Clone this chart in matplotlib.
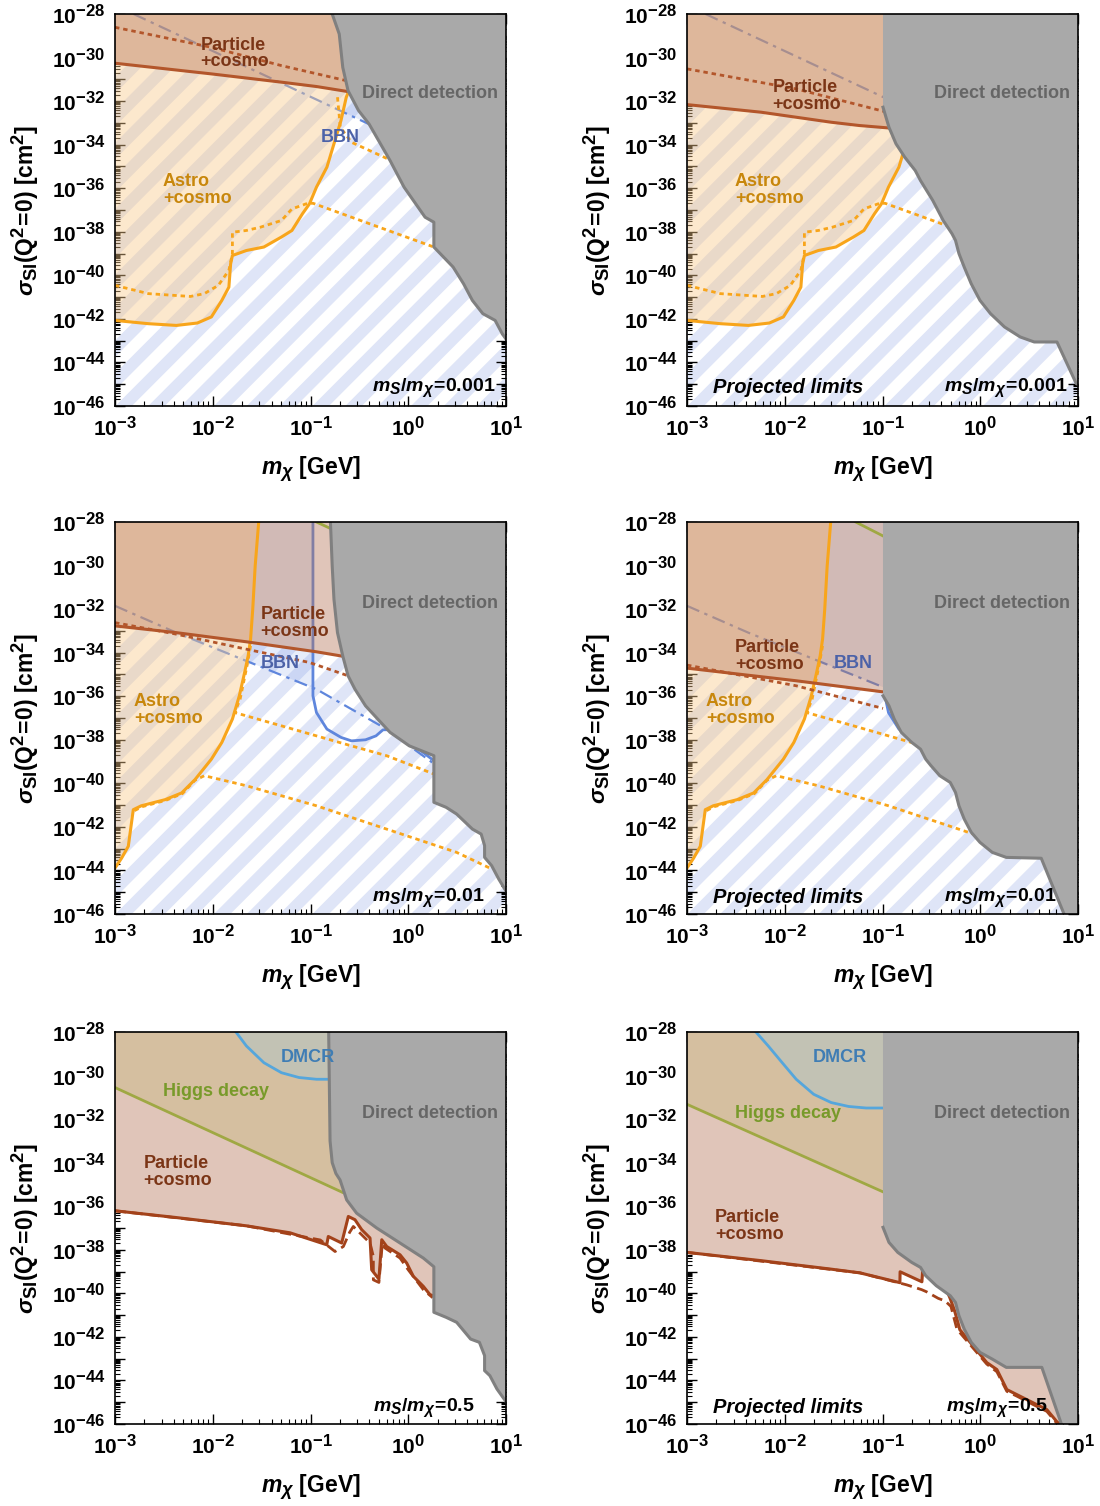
import numpy as np
import matplotlib
matplotlib.use("Agg")
import matplotlib.pyplot as plt
from matplotlib.path import Path
from matplotlib.patches import PathPatch
from matplotlib.lines import Line2D
from matplotlib.ticker import LogLocator, FuncFormatter, NullFormatter

try:
    import matplotlib._mathtext as _mt
    if hasattr(_mt, "SHRINK_FACTOR"):
        _mt.SHRINK_FACTOR = 0.8
except Exception:
    pass

plt.rcParams.update({
    "font.family": ["Liberation Sans", "DejaVu Sans"],
    "font.weight": "bold",
    "axes.labelweight": "bold",
    "mathtext.fontset": "custom",
    "mathtext.rm": "Liberation Sans:bold",
    "mathtext.bf": "Liberation Sans:bold",
    "mathtext.it": "Liberation Sans:italic:bold",
    "mathtext.sf": "Liberation Sans:bold",
})

# ------------------------------------------------------------------
# DATA  (all values are log10: x = log10(m_chi/GeV), y = log10(sigma/cm^2))
# ------------------------------------------------------------------
# ---- row 1 : m_S/m_chi = 0.001
r1_astro_x = [-3.0, -2.659, -2.373, -2.158, -2.014, -1.907, -1.835, -1.817, -1.799, -1.656, -1.477,
              -1.297, -1.190, -1.082, -1.011, -0.939, -0.832, -0.760, -0.688, -0.634, -0.609]
r1_astro_y = [-42.07, -42.22, -42.30, -42.19, -41.91, -41.15, -40.54, -39.47, -39.09, -38.86, -38.70,
              -38.24, -37.94, -37.17, -36.72, -35.95, -35.03, -33.96, -32.89, -31.82, -31.55]
r1_astrodot_x = [-3.0, -2.659, -2.229, -2.086, -1.943, -1.835, -1.799, -1.799, -1.656, -1.513, -1.297,
                 -1.190, -1.047, -0.975, 0.262]
r1_astrodot_y = [-40.46, -40.84, -40.97, -40.84, -40.46, -39.77, -39.01, -38.02, -37.94, -37.79, -37.48,
                 -36.95, -36.72, -36.69, -38.70]
r1_astrodot2_x = [-0.724, -0.695, -0.581, -0.186]
r1_astrodot2_y = [-31.82, -33.20, -33.89, -34.70]
r1_bbn_x = [-2.81, 0.0]
r1_bbn_y = [-28.0, -33.90]
r1_bbn_xmax = 0.0

r1L_part_x = [-3.0, -2.014, -1.297, -0.939, -0.634]
r1L_part_y = [-30.26, -30.75, -31.13, -31.33, -31.55]
r1L_partdot_x = [-3.0, -2.014, -1.297, -0.634]
r1L_partdot_y = [-28.61, -29.53, -30.37, -31.06]
r1L_dd_x = [-0.778, -0.706, -0.670, -0.616, -0.509, -0.401, -0.186, -0.043, 0.172, 0.262, 0.262,
            0.459, 0.566, 0.656, 0.763, 0.889, 0.961, 1.02]
r1L_dd_y = [-28.0, -28.92, -30.45, -31.52, -32.43, -33.05, -34.73, -35.95, -37.33, -37.56, -38.70,
            -39.62, -40.39, -41.15, -41.76, -42.07, -42.68, -43.05]

r1R_part_x = [-3.0, -2.241, -1.525, -1.238, -0.944]
r1R_part_y = [-32.16, -32.51, -32.97, -33.12, -33.23]
r1R_partdot_x = [-3.0, -1.883, -0.952]
r1R_partdot_y = [-30.52, -31.44, -32.51]
r1R_dd_x = [-0.995, -0.995, -0.987, -0.934, -0.862, -0.773, -0.665, -0.611, -0.486, -0.379, -0.289,
            -0.253, -0.218, -0.164, -0.092, -0.003, 0.105, 0.248, 0.409, 0.552, 0.785, 0.982, 1.02]
r1R_dd_y = [-28.0, -32.28, -32.40, -33.20, -33.96, -34.57, -35.19, -35.65, -36.56, -37.48, -38.09,
            -38.40, -39.00, -39.62, -40.39, -41.15, -41.76, -42.37, -42.83, -43.06, -43.06, -44.97, -45.05]

# ---- row 2 : m_S/m_chi = 0.01
r2_astro_x = [-3.0, -2.932, -2.864, -2.813, -2.731, -2.488, -2.318, -2.182, -2.014, -1.907, -1.799,
              -1.728, -1.674, -1.638, -1.613, -1.591, -1.566, -1.530]
r2_astro_y = [-43.89, -43.43, -42.89, -41.21, -41.03, -40.75, -40.44, -39.83, -38.89, -38.12, -37.05,
              -35.98, -34.91, -34.15, -33.38, -32.01, -30.02, -28.0]
r2_astrodot_x = [-1.613, -1.650, -1.720, -1.775, -1.297, -0.581, -0.222, 0.262]
r2_astrodot_y = [-33.69, -34.61, -36.13, -36.75, -37.36, -38.28, -38.73, -39.57]
r2_astrodot2_x = [-2.800, -2.720, -2.480, -2.310, -2.182, -2.086, -1.656, -0.939, -0.222, 0.495, 0.853]
r2_astrodot2_y = [-41.25, -41.07, -40.78, -40.47, -39.86, -39.65, -40.11, -41.03, -42.10, -43.17, -43.93]
r2_bbn_x = [-3.0, -2.373, -1.656, -0.939, -0.222, 0.244]
r2_bbn_y = [-31.85, -33.08, -34.38, -35.68, -37.51, -39.04]
r2_bbn_xmax = -0.975
r2_bbnsolid_x = [-0.975, -0.975, -0.939, -0.832, -0.688, -0.581, -0.437, -0.330, -0.258, -0.186,
                 -0.115, 0.262]
r2_bbnsolid_y = [-28.0, -35.98, -36.75, -37.51, -37.89, -38.05, -38.00, -37.82, -37.54, -37.54,
                 -37.66, -38.96]

r2L_part_x = [-3.0, -2.373, -1.656, -0.939, -0.688]
r2L_part_y = [-32.77, -33.08, -33.50, -33.96, -34.15]
r2L_partdot_x = [-3.0, -2.373, -1.656, -1.011, -0.616]
r2L_partdot_y = [-32.62, -33.15, -33.84, -34.45, -35.06]
r2L_higgs_x = [-0.939, -0.780]
r2L_higgs_y = [-28.0, -28.33]
r2L_dd_x = [-0.796, -0.778, -0.760, -0.724, -0.670, -0.616, -0.545, -0.437, -0.312, -0.186, 0.011,
            0.262, 0.262, 0.387, 0.495, 0.656, 0.746, 0.781, 0.781, 0.853, 0.925, 1.02]
r2L_dd_y = [-28.0, -30.02, -31.55, -33.08, -34.15, -35.06, -35.68, -36.44, -37.05, -37.66, -38.28,
            -38.73, -40.87, -41.10, -41.41, -42.10, -42.33, -42.86, -43.40, -43.78, -44.39, -45.1]

r2R_part_x = [-3.0, -1.883, -0.995]
r2R_part_y = [-34.71, -35.29, -35.80]
r2R_partdot_x = [-3.0, -1.883, -0.995]
r2R_partdot_y = [-34.57, -35.52, -36.56]
r2R_higgs_x = [-1.274, -0.995]
r2R_higgs_y = [-28.0, -28.64]
r2R_dd_x = [-0.995, -0.995, -0.934, -0.880, -0.808, -0.701, -0.611, -0.558, -0.504, -0.414, -0.307,
            -0.253, -0.218, -0.164, -0.092, -0.003, 0.123, 0.266, 0.624, 0.857]
r2R_dd_y = [-28.0, -35.98, -36.44, -37.05, -37.66, -38.12, -38.43, -38.89, -39.19, -39.65, -39.96,
            -40.42, -41.03, -41.64, -42.25, -42.71, -43.17, -43.40, -43.44, -46.0]

# ---- row 3 : m_S/m_chi = 0.5
r3L_part_x = [-3.0, -2.373, -1.656, -1.210, -0.834, -0.818, -0.681, -0.613, -0.545, -0.476, -0.391,
              -0.374, -0.300, -0.271, -0.220, -0.084, -0.016, 0.052, 0.154, 0.222, 0.262]
r3L_part_y = [-36.21, -36.52, -36.90, -37.22, -37.77, -37.39, -37.69, -36.47, -36.62, -37.08, -37.46,
              -38.92, -39.35, -37.54, -37.85, -38.23, -38.61, -39.22, -39.68, -40.06, -40.12]
r3L_partdash_x = [-3.0, -1.656, -0.900, -0.749, -0.664, -0.600, -0.562, -0.391, -0.357, -0.357, -0.300,
                  -0.265, -0.238, -0.084, 0.0, 0.154, 0.250]
r3L_partdash_y = [-36.21, -36.90, -37.55, -38.08, -37.85, -37.20, -36.93, -37.69, -38.31, -39.38, -39.50,
                  -37.70, -37.92, -38.38, -38.92, -39.83, -40.20]
r3L_higgs_x = [-3.0, -0.670]
r3L_higgs_y = [-30.55, -35.37]
r3L_dmcr_x = [-1.763, -1.656, -1.477, -1.297, -1.118, -0.939, -0.814]
r3L_dmcr_y = [-28.0, -28.64, -29.41, -29.87, -30.09, -30.17, -30.17]
r3L_dd_x = [-0.814, -0.800, -0.778, -0.740, -0.698, -0.630, -0.528, -0.323, -0.084, 0.154, 0.262,
            0.262, 0.387, 0.495, 0.638, 0.728, 0.781, 0.781, 0.835, 0.907, 1.02]
r3L_dd_y = [-28.0, -33.00, -34.00, -34.50, -34.79, -35.71, -36.32, -37.00, -37.69, -38.38, -38.78,
            -40.87, -41.10, -41.33, -42.10, -42.25, -42.86, -43.55, -43.78, -44.39, -45.1]

r3R_part_x = [-3.0, -2.241, -1.525, -1.231, -0.822, -0.820, -0.597, -0.587, -0.500, -0.350, -0.311,
              -0.260, -0.209, 0.067, 0.170, 0.272, 0.374, 0.538, 0.681, 0.783, 0.810]
r3R_part_y = [-38.12, -38.50, -38.89, -39.06, -39.51, -39.01, -39.47, -38.83, -39.20, -39.80, -40.20,
              -40.84, -41.67, -43.18, -43.50, -44.42, -44.65, -45.02, -45.34, -45.89, -46.0]
r3R_partdash_x = [-3.0, -1.231, -0.830, -0.753, -0.600, -0.549, -0.430, -0.360, -0.300, -0.242, -0.200,
                  0.067, 0.170, 0.272, 0.374, 0.538, 0.681, 0.790]
r3R_partdash_y = [-38.12, -39.06, -39.52, -39.61, -39.83, -39.93, -40.23, -40.35, -40.60, -41.59, -41.85,
                  -43.25, -43.60, -44.50, -44.72, -45.10, -45.42, -46.0]
r3R_higgs_x = [-3.0, -0.995]
r3R_higgs_y = [-31.32, -35.34]
r3R_dmcr_x = [-2.295, -2.169, -2.026, -1.883, -1.704, -1.525, -1.346, -1.167, -0.995]
r3R_dmcr_y = [-28.0, -28.64, -29.41, -30.17, -30.86, -31.24, -31.42, -31.49, -31.49]
r3R_dd_x = [-0.995, -0.995, -0.934, -0.844, -0.701, -0.611, -0.558, -0.450, -0.307, -0.253, -0.218,
            -0.164, -0.092, -0.003, 0.123, 0.266, 0.630, 0.830]
r3R_dd_y = [-28.0, -36.97, -37.66, -38.12, -38.58, -38.81, -39.19, -39.65, -40.11, -40.42, -41.03,
            -41.64, -42.25, -42.71, -43.02, -43.40, -43.40, -46.0]

ratio_labels = ["0.001", "0.01", "0.5"]

# ------------------------------------------------------------------
# STYLE
# ------------------------------------------------------------------
C_STRIPE = "#dfe5f7"
C_ORANGE_FILL, A_ORANGE = "#f9c98a", 0.42
C_BROWN_FILL, A_BROWN = "#b47355", 0.41
C_BLUE_FILL, A_BLUE = "#648ce6", 0.16
C_HIGGS_FILL, A_HIGGS = "#aaaa3c", 0.20
C_DMCR_FILL, A_DMCR = "#a0c8dc", 0.35
C_DD, C_DD_EDGE = "#a9a9a9", "#808080"
C_ORANGE = "#f8a51b"
C_BROWN12 = "#b3562b"
C_BROWN3 = "#a3421a"
C_BBN = "#5f86dc"
C_HIGGS = "#9fa843"
C_DMCR = "#55a6dc"
T_PART = "#7b3516"
T_ASTRO = "#c8870c"
T_BBN = "#4c62a8"
T_DD = "#666666"
T_DMCR = "#3f7db4"
T_HIGGS = "#789a2a"
DOT = (0, (1.6, 1.4))
DASHDOT = (0, (6, 2.5, 1.5, 2.5))
TOP = -27.5
LEFT = -3.3


def lg(v):
    return 10.0 ** np.asarray(v, dtype=float)


def region_above(xs, ys):
    xs = [float(v) for v in xs]
    ys = [float(v) for v in ys]
    vx, vy = [], []
    xl = xs[0]
    if xs[0] <= -3.0:
        xl = LEFT
        vx.append(xl)
        vy.append(ys[0])
    vx += xs
    vy += ys
    xe = xs[-1] + 0.05
    vx += [xe, xe, xl]
    vy += [ys[-1], TOP, TOP]
    return np.array(vx), np.array(vy)


def region_above_until(xs, ys, xmax):
    xs = np.asarray(xs, float)
    ys = np.asarray(ys, float)
    keep = xs < xmax
    cx = list(np.r_[xs[keep], xmax])
    cy = list(np.r_[ys[keep], np.interp(xmax, xs, ys)])
    xl = cx[0]
    if cx[0] <= -3.0:
        xl = LEFT
        cx = [xl] + cx
        cy = [cy[0]] + cy
    cx += [xmax, xl]
    cy += [TOP, TOP]
    return np.array(cx), np.array(cy)


def dd_region(xs, ys):
    vx = list(xs)
    vy = list(ys)
    if ys[-1] <= -45.9:
        vx += [xs[-1] + 0.02, 1.3]
        vy += [-46.5, -46.5]
    else:
        vx += [1.3]
        vy += [ys[-1]]
    vx += [1.3, xs[0]]
    vy += [TOP, TOP]
    return np.array(vx), np.array(vy)


def hole_patch(ax, hx, hy):
    hx = np.asarray(hx, float)
    hy = np.asarray(hy, float)
    area = 0.5 * np.sum(hx * np.roll(hy, -1) - np.roll(hx, -1) * hy)
    if area > 0:
        hx, hy = hx[::-1], hy[::-1]
    rx = [-4.0, 2.0, 2.0, -4.0, -4.0]
    ry = [-48.0, -48.0, -26.0, -26.0, -48.0]
    verts = np.column_stack([np.r_[rx, hx, hx[0]], np.r_[ry, hy, hy[0]]])
    codes = ([Path.MOVETO] + [Path.LINETO] * 3 + [Path.CLOSEPOLY] +
             [Path.MOVETO] + [Path.LINETO] * (len(hx) - 1) + [Path.CLOSEPOLY])
    return PathPatch(Path(10.0 ** verts, codes), transform=ax.transData)


def add_stripes(ax):
    period = 0.084
    for c in np.arange(-1.45, 1.45, period):
        ln = Line2D([-0.2, 1.2], [c - 0.2, c + 1.2], transform=ax.transAxes, color=C_STRIPE,
                    lw=8.4, solid_capstyle="butt", zorder=1)
        ax.add_line(ln)


def fill(ax, vx, vy, **kw):
    return ax.fill(lg(vx), lg(vy), lw=0, **kw)[0]


def line(ax, x, y, **kw):
    ax.plot(lg(x), lg(y), **kw)


def style_axes(ax):
    ax.set_xscale("log")
    ax.set_yscale("log")
    ax.set_xlim(1e-3, 1e1)
    ax.set_ylim(1e-46, 1e-28)
    ax.xaxis.set_major_locator(LogLocator(base=10, numticks=30))
    ax.yaxis.set_major_locator(LogLocator(base=10, numticks=40))
    ax.xaxis.set_minor_locator(LogLocator(base=10, subs=np.arange(2, 10), numticks=30))
    ax.yaxis.set_minor_locator(LogLocator(base=10, subs=np.arange(2, 10), numticks=40))
    ax.xaxis.set_minor_formatter(NullFormatter())
    ax.yaxis.set_minor_formatter(NullFormatter())
    ax.xaxis.set_major_formatter(FuncFormatter(lambda v, p: r"$10^{%d}$" % round(np.log10(v))))

    def yf(v, p):
        e = int(round(np.log10(v)))
        return (r"$10^{%d}$" % e) if e % 2 == 0 else ""
    ax.yaxis.set_major_formatter(FuncFormatter(yf))
    ax.tick_params(which="both", direction="in", top=True, right=True, labelsize=15)
    ax.tick_params(axis="x", which="major", pad=7)
    ax.tick_params(axis="y", which="major", pad=7)
    ax.tick_params(which="major", length=7, width=1.0)
    ax.tick_params(which="minor", length=3.5, width=0.8)
    for s in ax.spines.values():
        s.set_linewidth(1.2)
        s.set_zorder(20)
    ax.set_xlabel(r"$m_\chi$ [GeV]", fontsize=16.5, fontweight="bold", labelpad=10)
    ax.set_ylabel(r"$\sigma_{\mathrm{SI}}(\mathrm{Q}^2\!=\!0)$ [cm$^2$]", fontsize=16.5,
                  fontweight="bold", labelpad=8)


def draw_panel(ax, dd_x, dd_y, dd_edge_start, part_x, part_y, partdot_x, partdot_y, part_style,
               part_color, stripes=False, astro=None, astrodots=(), bbn=None, bbn_xmax=None,
               bbn_solid=None, higgs=None, dmcr=None):
    style_axes(ax)
    if stripes:
        add_stripes(ax)
    bx, by = region_above(part_x, part_y)
    fill(ax, bx, by, color="white", zorder=2)
    if astro is not None:
        ax_, ay_ = region_above(*astro)
    if bbn is not None:
        vx, vy = region_above_until(bbn[0], bbn[1], bbn_xmax)
        p = fill(ax, vx, vy, color=C_BLUE_FILL, alpha=A_BLUE, zorder=3)
        if astro is not None:
            p.set_clip_path(hole_patch(ax, ax_, ay_))
        line(ax, bbn[0], bbn[1], color=C_BBN, lw=1.6, ls=DASHDOT, zorder=4)
    if bbn_solid is not None:
        line(ax, bbn_solid[0], bbn_solid[1], color=C_BBN, lw=2.0, zorder=4)
    if astro is not None:
        fill(ax, ax_, ay_, color=C_ORANGE_FILL, alpha=A_ORANGE, zorder=5)
    fill(ax, bx, by, color=C_BROWN_FILL, alpha=A_BROWN, zorder=6)
    if higgs is not None and dmcr is not None:
        hx, hy = region_above(*higgs)
        fill(ax, hx, hy, color=C_HIGGS_FILL, alpha=A_HIGGS, zorder=6.3)
        mx, my = region_above(*dmcr)
        fill(ax, mx, my, color=C_DMCR_FILL, alpha=A_DMCR, zorder=6.5)
        line(ax, dmcr[0], dmcr[1], color=C_DMCR, lw=2.0, zorder=8)
    if higgs is not None:
        line(ax, higgs[0], higgs[1], color=C_HIGGS, lw=2.0, zorder=8)
    if astro is not None:
        for dx, dy in astrodots:
            line(ax, dx, dy, color=C_ORANGE, lw=2.0, ls=DOT, zorder=7)
        line(ax, astro[0], astro[1], color=C_ORANGE, lw=2.2, zorder=7.5)
    line(ax, partdot_x, partdot_y, color=part_color, lw=2.0, ls=part_style, zorder=8)
    line(ax, part_x, part_y, color=part_color, lw=2.2, zorder=8.5)
    dx, dy = dd_region(dd_x, dd_y)
    fill(ax, dx, dy, color=C_DD, zorder=9)
    line(ax, dd_x[dd_edge_start:], dd_y[dd_edge_start:], color=C_DD_EDGE, lw=2.2, zorder=10,
         solid_joinstyle="round")
    ax.set_xlim(1e-3, 1e1)
    ax.set_ylim(1e-46, 1e-28)


def txt(ax, fx, fy, s, color, size=13, ha="center", style="normal"):
    ax.text(fx, fy, s, transform=ax.transAxes, color=color, fontsize=size, fontweight="bold",
            ha=ha, va="center", fontstyle=style, zorder=15, linespacing=0.95,
            multialignment="left")


fig = plt.figure(figsize=(11, 15.06), dpi=100)
W, H = 0.35545, 0.26029
XL, XR = 0.10455, 0.62455
YB = [0.73041, 0.39309, 0.05445]
axes = [[fig.add_axes([XL, yb, W, H]), fig.add_axes([XR, yb, W, H])] for yb in YB]

# ---------------- row 1
a = axes[0][0]
draw_panel(a, r1L_dd_x, r1L_dd_y, 0, r1L_part_x, r1L_part_y, r1L_partdot_x, r1L_partdot_y, DOT,
           C_BROWN12, stripes=True, astro=(r1_astro_x, r1_astro_y),
           astrodots=[(r1_astrodot_x, r1_astrodot_y), (r1_astrodot2_x, r1_astrodot2_y)],
           bbn=(r1_bbn_x, r1_bbn_y), bbn_xmax=r1_bbn_xmax)
txt(a, 0.307, 0.900, "Particle\n+cosmo", T_PART)
txt(a, 0.806, 0.798, "Direct detection", T_DD)
txt(a, 0.575, 0.686, "BBN", T_BBN)
txt(a, 0.210, 0.551, "Astro\n+cosmo", T_ASTRO)
txt(a, 0.972, 0.048, r"$m_S/m_\chi\!=\!%s$" % ratio_labels[0], "black", size=14, ha="right")

a = axes[0][1]
draw_panel(a, r1R_dd_x, r1R_dd_y, 1, r1R_part_x, r1R_part_y, r1R_partdot_x, r1R_partdot_y, DOT,
           C_BROWN12, stripes=True, astro=(r1_astro_x, r1_astro_y),
           astrodots=[(r1_astrodot_x, r1_astrodot_y), (r1_astrodot2_x, r1_astrodot2_y)],
           bbn=(r1_bbn_x, r1_bbn_y), bbn_xmax=r1_bbn_xmax)
txt(a, 0.307, 0.791, "Particle\n+cosmo", T_PART)
txt(a, 0.806, 0.798, "Direct detection", T_DD)
txt(a, 0.210, 0.551, "Astro\n+cosmo", T_ASTRO)
txt(a, 0.258, 0.048, "Projected limits", "black", size=14.5, style="italic")
txt(a, 0.972, 0.048, r"$m_S/m_\chi\!=\!%s$" % ratio_labels[0], "black", size=14, ha="right")

# ---------------- row 2
a = axes[1][0]
draw_panel(a, r2L_dd_x, r2L_dd_y, 0, r2L_part_x, r2L_part_y, r2L_partdot_x, r2L_partdot_y, DOT,
           C_BROWN12, stripes=True, astro=(r2_astro_x, r2_astro_y),
           astrodots=[(r2_astrodot_x, r2_astrodot_y), (r2_astrodot2_x, r2_astrodot2_y)],
           bbn=(r2_bbn_x, r2_bbn_y), bbn_xmax=r2_bbn_xmax,
           bbn_solid=(r2_bbnsolid_x, r2_bbnsolid_y), higgs=(r2L_higgs_x, r2L_higgs_y))
txt(a, 0.460, 0.742, "Particle\n+cosmo", T_PART)
txt(a, 0.422, 0.640, "BBN", T_BBN)
txt(a, 0.806, 0.793, "Direct detection", T_DD)
txt(a, 0.136, 0.520, "Astro\n+cosmo", T_ASTRO)
txt(a, 0.946, 0.043, r"$m_S/m_\chi\!=\!%s$" % ratio_labels[1], "black", size=14, ha="right")

a = axes[1][1]
draw_panel(a, r2R_dd_x, r2R_dd_y, 1, r2R_part_x, r2R_part_y, r2R_partdot_x, r2R_partdot_y, DOT,
           C_BROWN12, stripes=True, astro=(r2_astro_x, r2_astro_y),
           astrodots=[(r2_astrodot_x, r2_astrodot_y), (r2_astrodot2_x, r2_astrodot2_y)],
           bbn=(r2_bbn_x, r2_bbn_y), bbn_xmax=r2_bbn_xmax,
           bbn_solid=(r2_bbnsolid_x, r2_bbnsolid_y), higgs=(r2R_higgs_x, r2R_higgs_y))
txt(a, 0.210, 0.658, "Particle\n+cosmo", T_PART)
txt(a, 0.425, 0.640, "BBN", T_BBN)
txt(a, 0.806, 0.793, "Direct detection", T_DD)
txt(a, 0.136, 0.520, "Astro\n+cosmo", T_ASTRO)
txt(a, 0.258, 0.043, "Projected limits", "black", size=14.5, style="italic")
txt(a, 0.946, 0.043, r"$m_S/m_\chi\!=\!%s$" % ratio_labels[1], "black", size=14, ha="right")

# ---------------- row 3
a = axes[2][0]
draw_panel(a, r3L_dd_x, r3L_dd_y, 0, r3L_part_x, r3L_part_y, r3L_partdash_x, r3L_partdash_y,
           (0, (4, 2)), C_BROWN3, higgs=(r3L_higgs_x, r3L_higgs_y), dmcr=(r3L_dmcr_x, r3L_dmcr_y))
txt(a, 0.494, 0.934, "DMCR", T_DMCR)
txt(a, 0.258, 0.847, "Higgs decay", T_HIGGS)
txt(a, 0.806, 0.793, "Direct detection", T_DD)
txt(a, 0.161, 0.643, "Particle\n+cosmo", T_PART)
txt(a, 0.921, 0.043, r"$m_S/m_\chi\!=\!%s$" % ratio_labels[2], "black", size=14, ha="right")

a = axes[2][1]
draw_panel(a, r3R_dd_x, r3R_dd_y, 1, r3R_part_x, r3R_part_y, r3R_partdash_x, r3R_partdash_y,
           (0, (4, 2)), C_BROWN3, higgs=(r3R_higgs_x, r3R_higgs_y), dmcr=(r3R_dmcr_x, r3R_dmcr_y))
txt(a, 0.391, 0.934, "DMCR", T_DMCR)
txt(a, 0.258, 0.793, "Higgs decay", T_HIGGS)
txt(a, 0.806, 0.793, "Direct detection", T_DD)
txt(a, 0.159, 0.505, "Particle\n+cosmo", T_PART)
txt(a, 0.258, 0.043, "Projected limits", "black", size=14.5, style="italic")
txt(a, 0.923, 0.043, r"$m_S/m_\chi\!=\!%s$" % ratio_labels[2], "black", size=14, ha="right")

fig.savefig("out.png", dpi=100)
